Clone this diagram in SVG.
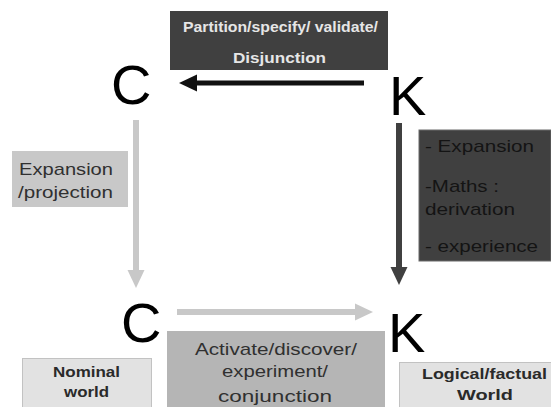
<svg xmlns="http://www.w3.org/2000/svg" width="551" height="407" viewBox="0 0 551 407">
  <defs>
    <style>
      .letter { font-family: "Liberation Sans", Arial, sans-serif; font-size: 56px; fill: #000; }
      .lbl { font-family: "Liberation Sans", Arial, sans-serif; font-size: 17px; }
      .bold { font-family: "Liberation Sans", Arial, sans-serif; font-weight: bold; }
      .dark { fill: #404040; }
      .mid { fill: #b5b5b5; }
      .soft { fill: #c8c8c8; }
      .pale { fill: #e2e2e2; stroke: #c2c2c2; stroke-width: 1; }
      .conn { fill: none; }
    </style>
    <marker id="headBlack" markerUnits="userSpaceOnUse" markerWidth="20" markerHeight="18" refX="0" refY="8.5" orient="auto" overflow="visible">
      <path d="M-1,0 L17,8.5 L-1,17 Z" fill="#111"/>
    </marker>
    <marker id="headLight" markerUnits="userSpaceOnUse" markerWidth="20" markerHeight="18" refX="0" refY="8.5" orient="auto" overflow="visible">
      <path d="M-1,0 L17,8.5 L-1,17 Z" fill="#c8c8c8"/>
    </marker>
    <marker id="headDark" markerUnits="userSpaceOnUse" markerWidth="20" markerHeight="18" refX="0" refY="8.5" orient="auto" overflow="visible">
      <path d="M-1,0 L17,8.5 L-1,17 Z" fill="#404040"/>
    </marker>
  </defs>

  <rect width="551" height="407" fill="#fff"/>

  <!-- connectors -->
  <g id="connectors" class="conn">
    <line x1="364" y1="83" x2="196" y2="83" stroke="#111" stroke-width="5" marker-end="url(#headBlack)"/>
    <line x1="136" y1="120" x2="136" y2="271" stroke="#c8c8c8" stroke-width="6" marker-end="url(#headLight)"/>
    <line x1="399" y1="123" x2="399" y2="268" stroke="#404040" stroke-width="6" marker-end="url(#headDark)"/>
    <line x1="177" y1="312" x2="356" y2="312" stroke="#c8c8c8" stroke-width="6" marker-end="url(#headLight)"/>
  </g>

  <!-- concept / knowledge letters -->
  <g id="node-c-top"><text class="letter" x="111" y="104">C</text></g>
  <g id="node-k-top"><text class="letter" x="389" y="115">K</text></g>
  <g id="node-c-bottom"><text class="letter" x="121" y="342">C</text></g>
  <g id="node-k-bottom"><text class="letter" x="388" y="352">K</text></g>

  <!-- operation labels -->
  <g id="label-partition">
    <rect class="dark" x="170" y="11" width="218" height="59"/>
    <text class="bold" font-size="15" fill="#e6e6e6" x="183" y="32" textLength="195" lengthAdjust="spacingAndGlyphs">Partition/specify/ validate/</text>
    <text class="bold" font-size="15" fill="#e6e6e6" x="233" y="63" textLength="93" lengthAdjust="spacingAndGlyphs">Disjunction</text>
  </g>

  <g id="label-expansion-projection">
    <rect class="soft" x="12" y="151" width="116" height="56"/>
    <text class="lbl" fill="#303030" x="19" y="175" textLength="94" lengthAdjust="spacingAndGlyphs">Expansion</text>
    <text class="lbl" fill="#303030" x="18" y="198" textLength="95" lengthAdjust="spacingAndGlyphs">/projection</text>
  </g>

  <g id="label-expansion-maths">
    <rect class="dark" x="419" y="130" width="132" height="131" stroke="#6a6a6a" stroke-width="1"/>
    <text class="lbl" fill="#141414" x="425" y="152" textLength="109" lengthAdjust="spacingAndGlyphs">- Expansion</text>
    <text class="lbl" fill="#141414" x="425" y="192" textLength="74" lengthAdjust="spacingAndGlyphs">-Maths :</text>
    <text class="lbl" fill="#141414" x="425" y="215" textLength="90" lengthAdjust="spacingAndGlyphs">derivation</text>
    <text class="lbl" fill="#141414" x="425" y="252" textLength="113" lengthAdjust="spacingAndGlyphs">- experience</text>
  </g>

  <g id="label-activate">
    <rect class="mid" x="167" y="331" width="218" height="80"/>
    <text class="lbl" font-size="18" fill="#303030" x="195" y="355" textLength="162" lengthAdjust="spacingAndGlyphs">Activate/discover/</text>
    <text class="lbl" font-size="18" fill="#303030" x="222" y="377" textLength="106" lengthAdjust="spacingAndGlyphs">experiment/</text>
    <text class="lbl" font-size="18" fill="#303030" x="218" y="402" textLength="114" lengthAdjust="spacingAndGlyphs">conjunction</text>
  </g>

  <!-- world labels -->
  <g id="label-nominal-world">
    <rect class="pale" x="22.5" y="358.5" width="129" height="52"/>
    <text class="bold" font-size="15" fill="#2a2a2a" x="53" y="377" textLength="67" lengthAdjust="spacingAndGlyphs">Nominal</text>
    <text class="bold" font-size="15" fill="#2a2a2a" x="64" y="397" textLength="45" lengthAdjust="spacingAndGlyphs">world</text>
  </g>

  <g id="label-logical-world">
    <rect class="pale" x="399.5" y="362.5" width="155" height="50"/>
    <text class="bold" font-size="15" fill="#2a2a2a" x="422" y="379" textLength="125" lengthAdjust="spacingAndGlyphs">Logical/factual</text>
    <text class="bold" font-size="15" fill="#2a2a2a" x="457" y="400" textLength="56" lengthAdjust="spacingAndGlyphs">World</text>
  </g>
</svg>
